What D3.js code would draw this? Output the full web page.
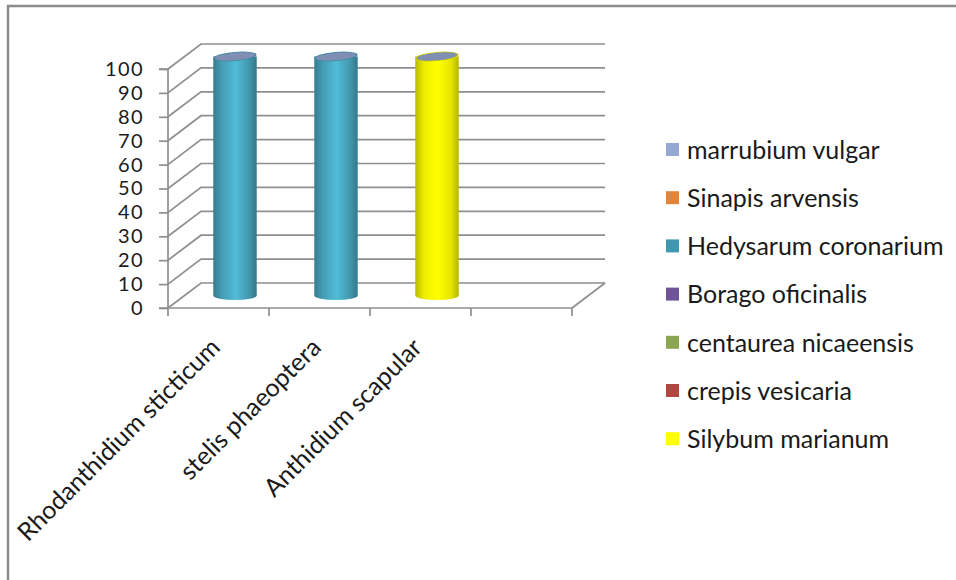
<!DOCTYPE html>
<html>
<head>
<meta charset="utf-8">
<script src="https://cdn.jsdelivr.net/npm/d3@7"></script>
<style>
  html, body { margin: 0; padding: 0; background: #fff; }
  svg { display: block; font-family: Lato, "Open Sans", sans-serif; }
</style>
</head>
<body>
<svg id="chart" width="956" height="580"></svg>
<script>
// Categories along the front axis (the fourth slot is left blank)
const categories = ["Rhodanthidium sticticum", "stelis phaeoptera", "Anthidium scapular", ""];

// Series listed in stacking order, bottom to top
const seriesNames = ["Silybum marianum", "crepis vesicaria", "centaurea nicaeensis",
  "Borago oficinalis", "Hedysarum coronarium", "Sinapis arvensis", "marrubium vulgar"];
const seriesColors = ["#ffff00", "#b0463f", "#8ba650", "#6f5598", "#4aa9c2", "#e2843a", "#94a8d2"];

// Values per series, one per category
const silybum     = [0, 0, 100, 0];
const crepis      = [0, 0, 0, 0];
const centaurea   = [0, 0, 0, 0];
const borago      = [0, 0, 0, 0];
const hedysarum   = [100, 100, 0, 0];
const sinapis     = [0, 0, 0, 0];
const marrubium   = [0, 0, 0, 0];
const seriesValues = [silybum, crepis, centaurea, borago, hedysarum, sinapis, marrubium];

const yTicks = [0, 10, 20, 30, 40, 50, 60, 70, 80, 90, 100];

const svg = d3.select("#chart");

// Outer chart frame (top and left edges)
svg.append("path")
  .attr("d", "M8,580 V6 H956")
  .attr("fill", "none").attr("stroke", "#8c8c8c").attr("stroke-width", 2.5);

// Plot geometry: front plane plus a depth offset for the 3D walls
const x0 = 168, x1 = 572, yBase = 308, yTop = 69;
const depthX = 33, depthY = -25;

const x = d3.scaleBand().domain(d3.range(categories.length)).range([x0, x1]);
const y = d3.scaleLinear().domain([0, 100]).range([yBase, yTop]);

const gridColor = "#8f8f8f";
const grid = svg.append("g").attr("fill", "none").attr("stroke", gridColor).attr("stroke-width", 1.7);

// Side wall diagonals + back wall horizontals for each tick
yTicks.forEach(t => {
  const yy = y(t);
  grid.append("path")
    .attr("d", `M${x0},${yy} L${x0 + depthX},${yy + depthY} H${x1 + depthX}`);
});
// Floor right edge
grid.append("path").attr("d", `M${x1 + depthX},${y(0) + depthY} L${x1},${y(0)}`);

// Value axis (front left edge) with ticks
const yAxis = d3.axisLeft(y).tickValues(yTicks).tickSize(9).tickPadding(15);
const yg = svg.append("g").attr("transform", `translate(${x0},0)`).call(yAxis);
yg.select(".domain").attr("stroke", gridColor).attr("stroke-width", 1.7)
  .attr("d", `M-9,${y(100)}H0V${y(0)}H-9`);
yg.selectAll(".tick line").attr("stroke", gridColor).attr("stroke-width", 1.7);
yg.selectAll(".tick text").attr("font-size", 20).attr("letter-spacing", 1.4)
  .attr("fill", "#1a1a1a").attr("font-family", "Lato, sans-serif");

// Category axis (front floor edge) with boundary ticks
const xg = svg.append("g").attr("stroke", gridColor).attr("stroke-width", 1.7);
xg.append("line").attr("x1", x0).attr("x2", x1).attr("y1", yBase).attr("y2", yBase);
d3.range(categories.length + 1).forEach(i => {
  const xx = x0 + i * x.step();
  xg.append("line").attr("x1", xx).attr("x2", xx).attr("y1", yBase).attr("y2", yBase + 8);
});

// Rotated category labels
svg.append("g").selectAll("text").data(categories).join("text")
  .attr("transform", (d, i) => `translate(${x(i) + x.bandwidth() / 2 + 3},${yBase + 41}) rotate(-45)`)
  .attr("text-anchor", "end")
  .attr("font-size", 25).attr("fill", "#1a1a1a")
  .text(d => d);

// Stacked cylinders
const table = categories.map((c, i) => {
  const row = { cat: i };
  seriesNames.forEach((s, k) => row[s] = seriesValues[k][i]);
  return row;
});
const stacked = d3.stack().keys(seriesNames)(table);

const defs = svg.append("defs");
seriesColors.forEach((col, k) => {
  const c = d3.color(col);
  const g = defs.append("linearGradient").attr("id", "cyl" + k)
    .attr("x1", "0%").attr("x2", "100%").attr("y1", "0%").attr("y2", "0%");
  g.append("stop").attr("offset", "0%").attr("stop-color", c.darker(0.9));
  g.append("stop").attr("offset", "20%").attr("stop-color", c.darker(0.2));
  g.append("stop").attr("offset", "52%").attr("stop-color", c.brighter(0.3));
  g.append("stop").attr("offset", "82%").attr("stop-color", c.darker(0.3));
  g.append("stop").attr("offset", "100%").attr("stop-color", c.darker(0.95));
});

const rx = x.bandwidth() * 0.215, ry = 4.6, tilt = -5;
const bars = svg.append("g");

categories.forEach((c, i) => {
  const cx = x(i) + x.bandwidth() / 2 + depthX / 2;
  const shift = depthY / 2;
  let topY = null;
  stacked.forEach((layer, k) => {
    const [v0, v1] = layer[i];
    if (v1 - v0 <= 0) return;
    const yb = y(v0) + shift, yt = y(v1) + shift;
    bars.append("path")
      .attr("d", `M${cx - rx},${yt} V${yb} A${rx},${ry} 0 0 0 ${cx + rx},${yb} V${yt} Z`)
      .attr("fill", `url(#cyl${k})`);
    bars.append("ellipse")
      .attr("cx", cx).attr("cy", yt).attr("rx", rx).attr("ry", ry)
      .attr("transform", `rotate(${tilt},${cx},${yt})`)
      .attr("fill", d3.color(seriesColors[k]).darker(0.6));
    topY = yt;
  });
  if (topY !== null) {
    // Zero-height top segment shows as a flat cap in the top series' colour
    const top = seriesColors.length - 1;
    bars.append("ellipse")
      .attr("cx", cx).attr("cy", topY).attr("rx", rx - 1.5).attr("ry", ry - 0.8)
      .attr("transform", `rotate(${tilt},${cx},${topY})`)
      .attr("fill", d3.color(seriesColors[top]).darker(0.45));
  }
});

// Legend, listed top to bottom in reverse stacking order
const legendSwatch = ["#ffff00", "#b0463f", "#8ba650", "#6f5598", "#3f98af", "#e2843a", "#94a8d2"];
const legendOrder = d3.range(seriesNames.length).reverse();
const lg = svg.append("g").attr("transform", "translate(666,150)");
legendOrder.forEach((k, r) => {
  const row = lg.append("g").attr("transform", `translate(0,${r * 48.2})`);
  row.append("rect").attr("x", 0).attr("y", -7).attr("width", 13).attr("height", 13)
    .attr("fill", legendSwatch[k]);
  row.append("text").attr("x", 21).attr("y", 0).attr("dy", "0.35em")
    .attr("font-size", 25).attr("fill", "#1a1a1a").text(seriesNames[k]);
});
</script>
</body>
</html>
